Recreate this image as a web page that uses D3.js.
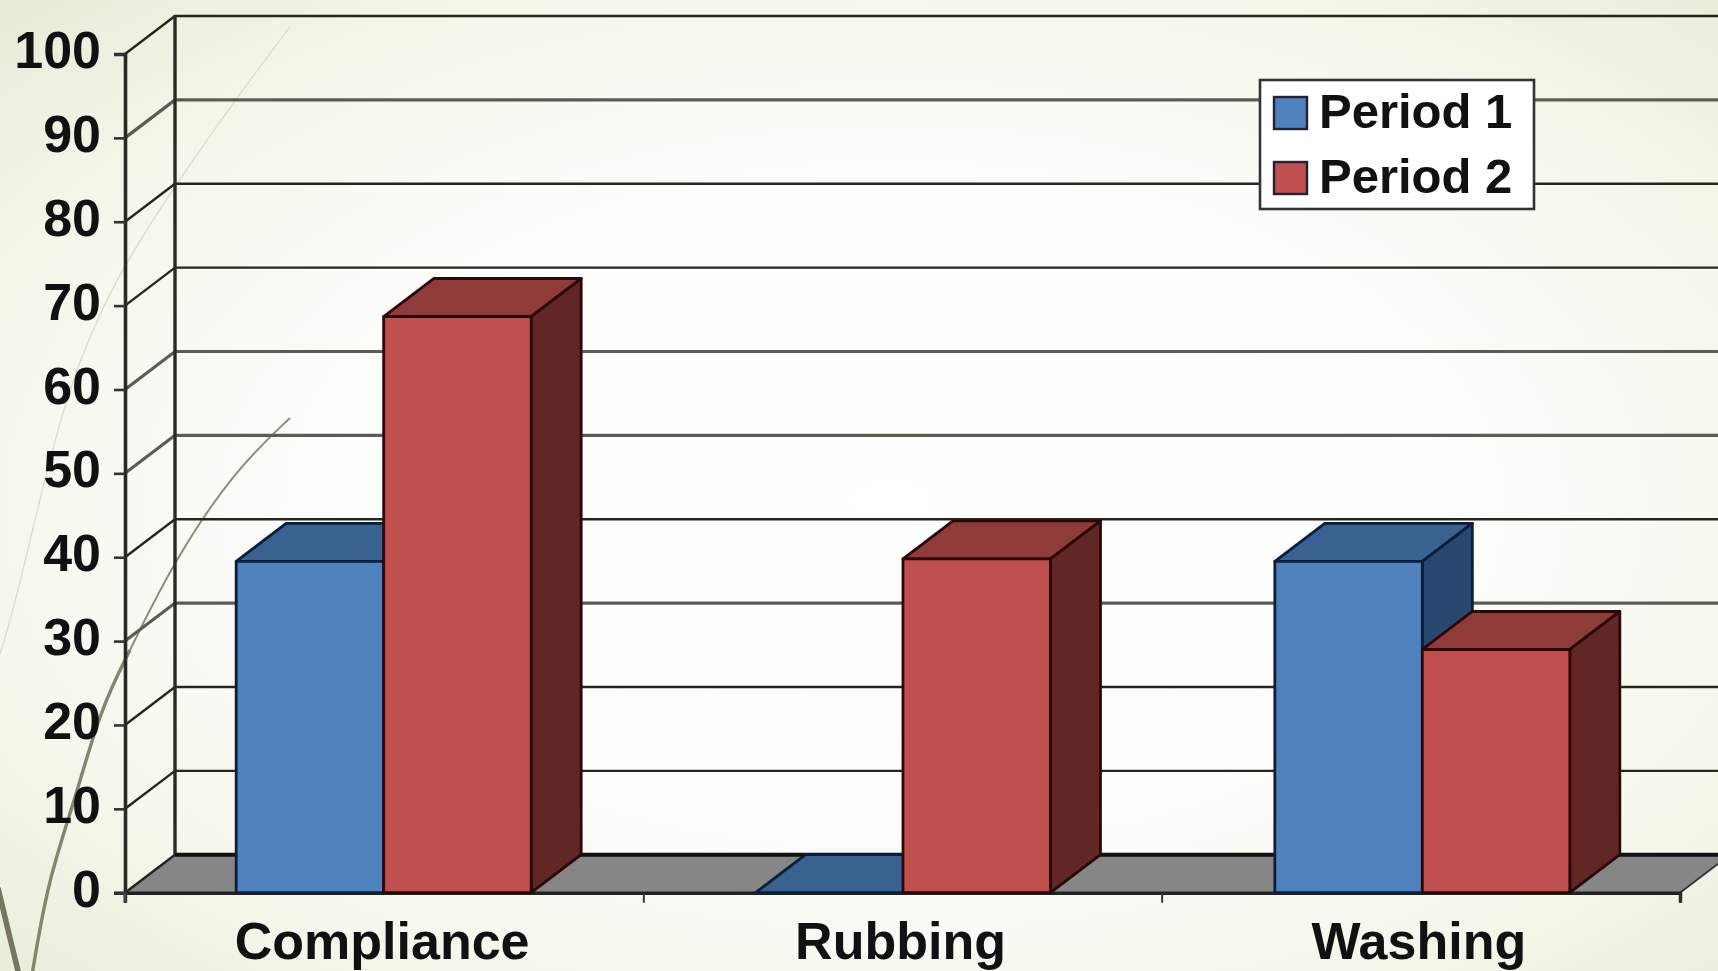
<!DOCTYPE html>
<html>
<head>
<meta charset="utf-8">
<script src="https://cdn.jsdelivr.net/npm/d3@7"></script>
<style>
  html, body { margin: 0; padding: 0; background: #fff; overflow: hidden; }
  svg { display: block; }
  text { font-family: "Liberation Sans", Arial, sans-serif; font-weight: 700; fill: #111; }
</style>
</head>
<body>
<svg id="chart" width="1718" height="971"></svg>
<script>
// Chart data
const categories = ["Compliance", "Rubbing", "Washing"];
const seriesNames = ["Period 1", "Period 2"];
const period1 = [39.5, 0, 39.5];
const period2 = [68.7, 39.8, 29];
const yTicks = [0, 10, 20, 30, 40, 50, 60, 70, 80, 90, 100];
const softGridTicks = [30, 50, 60, 90];

const W = 1718, H = 971;
const plot = { left: 125, right: 1680, top: 54, bottom: 892.7 };
const depth = { x: 50, y: -38 };

const palette = {
  "Period 1": { front: "#4f81bd", top: "#3a6290", side: "#27496f", edge: "#0b1f3a" },
  "Period 2": { front: "#c0504d", top: "#8f3b39", side: "#622725", edge: "#2a0808" }
};

const svg = d3.select("#chart");
const defs = svg.append("defs");

// Slide backdrop: white centre fading to a pale green edge
const bg = defs.append("radialGradient").attr("id", "backdrop")
  .attr("cx", "0.52").attr("cy", "0.52").attr("r", "0.72");
[[0, "#ffffff"], [0.45, "#fdfdfb"], [0.75, "#f5f7ec"], [1, "#e8edd9"]].forEach(([o, c]) =>
  bg.append("stop").attr("offset", o).attr("stop-color", c));
svg.append("rect").attr("width", W).attr("height", H).attr("fill", "url(#backdrop)");

// Decorative grass strokes behind the chart
const curve = d3.line().curve(d3.curveBasis);
const strokes = [
  { pts: [[130, 650], [175, 559], [235, 470], [290, 418]], color: "#8b8a72", width: 1.9 },
  { pts: [[32, 975], [48, 880], [75, 800], [100, 710], [130, 650]], color: "#85846c", width: 3.4 },
  { pts: [[-2, 660], [17, 600], [66, 383], [120, 270], [175, 186], [235, 100], [290, 27]], color: "#dcddcf", width: 1.4 },
  { pts: [[-2, 888], [8, 930], [19, 975]], color: "#77755f", width: 5.5 }
];
svg.append("g").selectAll("path").data(strokes).join("path")
  .attr("d", d => curve(d.pts))
  .attr("fill", "none").attr("stroke", d => d.color).attr("stroke-width", d => d.width);

// Scales
const y = d3.scaleLinear().domain([0, 100]).range([plot.bottom, plot.top]);
const xLabels = d3.scaleBand().domain(categories).range([plot.left - 2, plot.right - 2]);
const x0 = d3.scaleBand().domain(categories).range([124, 1682]).paddingInner(0.432).paddingOuter(0.216);
const x1 = d3.scaleBand().domain(seriesNames).range([0, x0.bandwidth()]);
const valuesBySeries = { "Period 1": period1, "Period 2": period2 };

// Floor of the 3D box
const poly = pts => pts.map(p => p.join(",")).join(" ");
svg.append("polygon")
  .attr("points", poly([
    [plot.left, plot.bottom],
    [plot.left + depth.x, plot.bottom + depth.y],
    [plot.right + depth.x, plot.bottom + depth.y],
    [plot.right, plot.bottom]
  ]))
  .attr("fill", "#868686");

// Gridlines wrap from the axis, across the side wall, along the back wall
const grid = svg.append("g");
grid.selectAll("path").data(yTicks.filter(t => t > 0)).join("path")
  .attr("d", t => `M${plot.left},${y(t)}L${plot.left + depth.x},${y(t) + depth.y}L${W},${y(t) + depth.y}`)
  .attr("fill", "none")
  .attr("stroke", t => softGridTicks.includes(t) ? "#5c5c54" : "#26261f")
  .attr("stroke-width", t => softGridTicks.includes(t) ? 3.2 : 2.4);

// Back wall corner and floor edges
svg.append("line")
  .attr("x1", plot.left + depth.x).attr("x2", plot.left + depth.x)
  .attr("y1", plot.top + depth.y - 1).attr("y2", plot.bottom + depth.y)
  .attr("stroke", "#2a2a25").attr("stroke-width", 3.4);
svg.append("line")
  .attr("x1", plot.left + depth.x).attr("x2", W)
  .attr("y1", plot.bottom + depth.y).attr("y2", plot.bottom + depth.y)
  .attr("stroke", "#111").attr("stroke-width", 4);
svg.append("line")
  .attr("x1", plot.left).attr("x2", plot.left + depth.x)
  .attr("y1", plot.bottom).attr("y2", plot.bottom + depth.y)
  .attr("stroke", "#222").attr("stroke-width", 2.4);
svg.append("line")
  .attr("x1", plot.right).attr("x2", plot.right + depth.x)
  .attr("y1", plot.bottom).attr("y2", plot.bottom + depth.y)
  .attr("stroke", "#333").attr("stroke-width", 1.8);

// Category boundary ticks and the front floor edge
const xEdge = d3.scaleLinear().domain([0, categories.length]).range([plot.left, plot.right]);
const edgeAxis = d3.axisBottom(xEdge).tickValues(d3.range(categories.length + 1)).tickSize(10).tickFormat("");
const edgeG = svg.append("g").attr("transform", `translate(0,${plot.bottom})`).call(edgeAxis);
edgeG.selectAll("path").attr("stroke", "#222").attr("stroke-width", 3.4);
edgeG.selectAll("line").attr("stroke", "#333").attr("stroke-width", 2);

// Bars as extruded boxes: top and side faces first, front face last
const bars = [];
categories.forEach((cat, i) => seriesNames.forEach(name => bars.push({ cat, name, value: valuesBySeries[name][i] })));
const barG = svg.append("g").selectAll("g").data(bars).join("g")
  .attr("stroke-width", 2.8).attr("stroke-linejoin", "round")
  .attr("stroke", d => palette[d.name].edge);

const faces = d => {
  const l = x0(d.cat) + x1(d.name), r = l + x1.bandwidth();
  return { l, r, t: y(d.value), b: y(0) };
};
barG.append("polygon").attr("fill", d => palette[d.name].top).attr("points", d => {
  const f = faces(d);
  return poly([[f.l, f.t], [f.l + depth.x, f.t + depth.y], [f.r + depth.x, f.t + depth.y], [f.r, f.t]]);
});
barG.filter(d => d.value > 0).append("polygon").attr("fill", d => palette[d.name].side).attr("points", d => {
  const f = faces(d);
  return poly([[f.r, f.t], [f.r + depth.x, f.t + depth.y], [f.r + depth.x, f.b + depth.y], [f.r, f.b]]);
});
barG.filter(d => d.value > 0).append("rect")
  .attr("fill", d => palette[d.name].front)
  .attr("x", d => faces(d).l).attr("y", d => faces(d).t)
  .attr("width", x1.bandwidth()).attr("height", d => faces(d).b - faces(d).t);

// Value axis
const yAxis = d3.axisLeft(y).tickValues(yTicks).tickSize(11).tickPadding(13);
const yG = svg.append("g").attr("transform", `translate(${plot.left},0)`).call(yAxis);
yG.selectAll("path").attr("stroke", "#2a2a25").attr("stroke-width", 3.6);
yG.selectAll("line").attr("stroke", "#333").attr("stroke-width", 2.6);
yG.selectAll("text").style("font-size", "52px").attr("dy", "0.26em");
svg.append("line")
  .attr("x1", plot.left).attr("x2", plot.left)
  .attr("y1", plot.bottom).attr("y2", plot.bottom + 10)
  .attr("stroke", "#444").attr("stroke-width", 3);

// Category axis labels; the descenders stay just inside the bottom edge
const xAxis = d3.axisBottom(xLabels).tickSize(0).tickPadding(29);
const xG = svg.append("g").attr("transform", `translate(0,${plot.bottom})`).call(xAxis);
xG.select("path").remove();
xG.selectAll("text").style("font-size", "52px");

// Legend
const legend = svg.append("g").attr("transform", "translate(1260,80)");
legend.append("rect").attr("width", 274).attr("height", 129)
  .attr("fill", "#fff").attr("stroke", "#333").attr("stroke-width", 2.6);
const rows = legend.selectAll("g").data(seriesNames).join("g")
  .attr("transform", (d, i) => `translate(14,${17 + i * 65})`);
rows.append("rect").attr("width", 33).attr("height", 32)
  .attr("fill", d => palette[d].front).attr("stroke", "#223").attr("stroke-width", 2.4);
rows.append("text").attr("x", 45).attr("y", 31).style("font-size", "49px").text(d => d);
</script>
</body>
</html>
